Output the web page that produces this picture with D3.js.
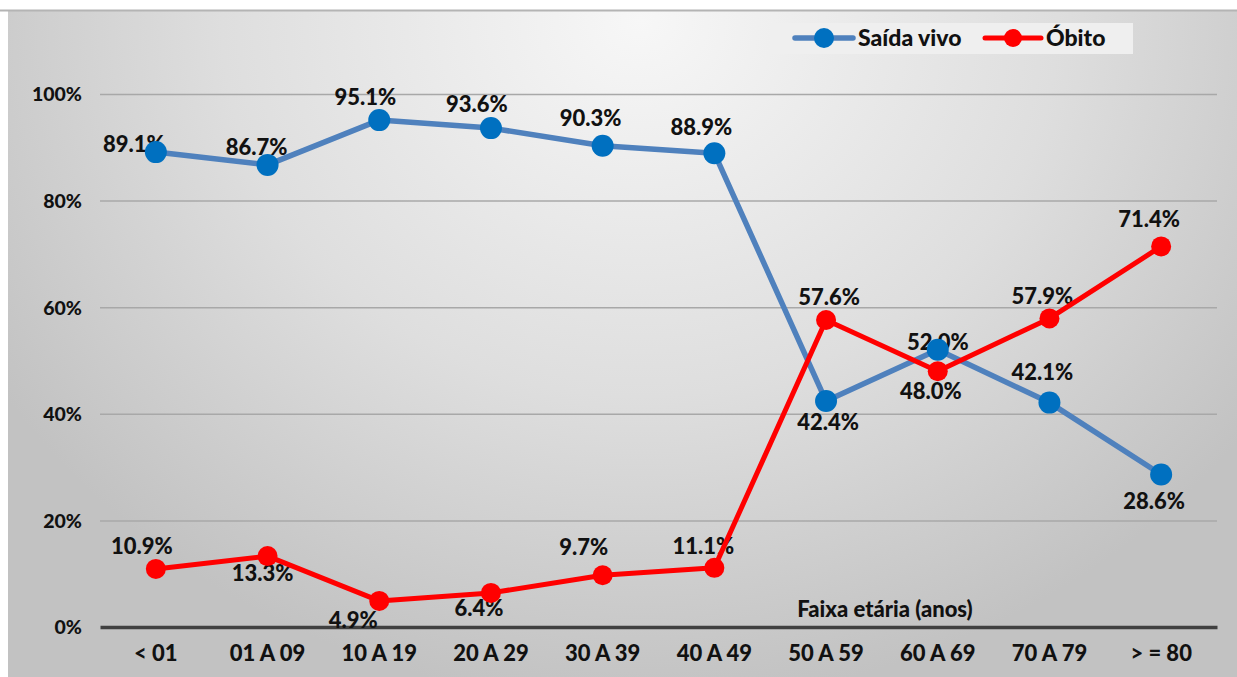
<!DOCTYPE html>
<html lang="pt">
<head>
<meta charset="UTF-8">
<title>Saída vivo x Óbito por faixa etária</title>
<style>
  body { margin: 0; background: #fff; }
  svg text { font-family: Lato, "Open Sans", sans-serif; font-weight: 900; fill: #111; }
</style>
</head>
<body>
<div id="chart"></div>
<script src="https://cdn.jsdelivr.net/npm/d3@7"></script>
<script>
// dados
const faixas = ["< 01", "01 A 09", "10 A 19", "20 A 29", "30 A 39", "40 A 49", "50 A 59", "60 A 69", "70 A 79", "> = 80"];
const saidaVivo = [89.1, 86.7, 95.1, 93.6, 90.3, 88.9, 42.4, 52.0, 42.1, 28.6];
const obito = [10.9, 13.3, 4.9, 6.4, 9.7, 11.1, 57.6, 48.0, 57.9, 71.4];
const yTicks = [0, 20, 40, 60, 80, 100];
const serieNomes = ["Saída vivo", "Óbito"];

// deslocamento dos rótulos (px) em relação ao ponto
const offVivo = [[-22, -8], [-11, -18], [-14, -23], [-14, -24], [-12, -27], [-13, -26], [2, 21], [0, -8], [-7, -30], [-7, 27]];
const offObito = [[-14, -23], [-5, 17], [-26, 19], [-12, 15], [-19, -28], [-11, -22], [3, -23], [-7, 20], [-7, -22], [-12, -27]];

const W = 1237, H = 677;
const mLeft = 100, mRight = 1217, mTop = 94, mBottom = 627;

const svg = d3.select("#chart").append("svg").attr("width", W).attr("height", H);

// fundo com gradiente
const defs = svg.append("defs");
const grad = defs.append("radialGradient").attr("id", "bg")
  .attr("gradientUnits", "userSpaceOnUse")
  .attr("cx", 640).attr("cy", 20).attr("r", 760)
  .attr("gradientTransform", "translate(640,20) scale(1,0.9) translate(-640,-20)");
grad.append("stop").attr("offset", "0%").attr("stop-color", "#f7f7f7");
grad.append("stop").attr("offset", "55%").attr("stop-color", "#dedede");
grad.append("stop").attr("offset", "100%").attr("stop-color", "#c2c2c2");

svg.append("rect").attr("x", 8).attr("y", 10).attr("width", W - 8).attr("height", H - 10).attr("fill", "url(#bg)");
svg.append("line").attr("x1", 0).attr("x2", W).attr("y1", 10.5).attr("y2", 10.5)
  .attr("stroke", "#b4b4b4").attr("stroke-width", 2);

const x = d3.scaleBand().domain(faixas).range([mLeft, mRight]);
const y = d3.scaleLinear().domain([0, 100]).range([mBottom, mTop]);
const cx = d => x(d) + x.bandwidth() / 2;

// grade
svg.append("g")
  .attr("transform", `translate(${mLeft},0)`)
  .call(d3.axisLeft(y).tickValues(yTicks.filter(t => t > 0)).tickSize(-(mRight - mLeft)).tickFormat(""))
  .call(g => g.select(".domain").remove())
  .call(g => g.selectAll(".tick line").attr("stroke", "#a8a8a8").attr("stroke-width", 1.5));

// eixo y (rótulos)
svg.append("g")
  .attr("transform", `translate(${mLeft - 15},0)`)
  .call(d3.axisLeft(y).tickValues(yTicks).tickSize(0).tickFormat(d => d + "%"))
  .call(g => g.select(".domain").remove())
  .call(g => g.selectAll("text").attr("font-size", 19.5).attr("dy", "0.35em"));

// eixo x
svg.append("g")
  .attr("transform", `translate(0,${mBottom})`)
  .call(d3.axisBottom(x).tickSize(0).tickPadding(21))
  .call(g => g.select(".domain").attr("stroke", "#404040").attr("stroke-width", 3.5))
  .call(g => g.selectAll("text").attr("font-size", 22).attr("dy", "0.6em"));

svg.append("text").attr("x", 885).attr("y", 609).attr("dy", "0.35em")
  .attr("text-anchor", "middle").attr("font-size", 22).text("Faixa etária (anos)");

const series = [
  { nome: serieNomes[0], vals: saidaVivo, off: offVivo, line: "#4f81bd", mark: "#0070c0", lw: 5.5, r: 11 },
  { nome: serieNomes[1], vals: obito, off: offObito, line: "#ff0000", mark: "#ff0000", lw: 5, r: 10 }
];

// rótulos de dados (atrás das linhas)
series.forEach(s => {
  svg.append("g").selectAll("text").data(s.vals).join("text")
    .attr("x", (d, i) => cx(faixas[i]) + s.off[i][0])
    .attr("y", (d, i) => y(d) + s.off[i][1])
    .attr("dy", "0.35em").attr("text-anchor", "middle").attr("font-size", 22)
    .text(d => d.toFixed(1) + "%");
});

const line = d3.line().x((d, i) => cx(faixas[i])).y(d => y(d));
series.forEach(s => {
  svg.append("path").datum(s.vals).attr("d", line)
    .attr("fill", "none").attr("stroke", s.line).attr("stroke-width", s.lw).attr("stroke-linejoin", "round");
  svg.append("g").selectAll("circle").data(s.vals).join("circle")
    .attr("cx", (d, i) => cx(faixas[i])).attr("cy", d => y(d)).attr("r", s.r).attr("fill", s.mark);
});

// legenda
const leg = svg.append("g");
leg.append("rect").attr("x", 770).attr("y", 23).attr("width", 363).attr("height", 31).attr("fill", "#efefef");
const legPos = [{ x0: 795, x1: 853, t: 858 }, { x0: 985, x1: 1041, t: 1046 }];
series.forEach((s, i) => {
  const p = legPos[i];
  leg.append("line").attr("x1", p.x0).attr("x2", p.x1).attr("y1", 38).attr("y2", 38)
    .attr("stroke", s.line).attr("stroke-width", s.lw).attr("stroke-linecap", "round");
  leg.append("circle").attr("cx", (p.x0 + p.x1) / 2).attr("cy", 38).attr("r", s.r - 1).attr("fill", s.mark);
  leg.append("text").attr("x", p.t).attr("y", 38).attr("dy", "0.35em").attr("font-size", 23).text(s.nome);
});
</script>
</body>
</html>
